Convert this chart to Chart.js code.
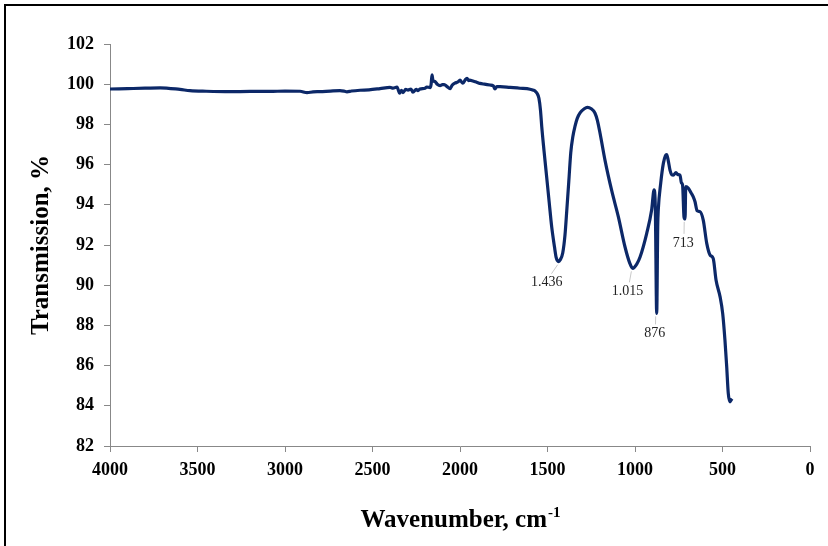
<!DOCTYPE html>
<html><head><meta charset="utf-8">
<script src="https://cdn.jsdelivr.net/npm/chart.js@4/dist/chart.umd.min.js"></script>
<style>
html,body{margin:0;padding:0;background:#fff;}
#wrap{position:relative;width:828px;height:546px;overflow:hidden;}
#frame{position:absolute;left:4px;top:4px;width:830px;height:550px;border-top:2px solid #000;border-left:2px solid #000;}
canvas{position:absolute;left:0;top:0;}
</style></head><body>
<div id="wrap"><div id="frame"></div><canvas id="c" width="828" height="546"></canvas></div>
<script>
const wavenumbers = [4000,3900,3800,3714,3600,3543,3450,3314,3200,3086,3000,2914,2874,2840,2800,2740,2686,2660,2646,2620,2571,2520,2457,2400,2383,2360,2345,2335,2326,2310,2297,2280,2269,2250,2240,2229,2200,2190,2171,2165,2160,2155,2152,2143,2130,2114,2100,2090,2074,2057,2045,2029,2010,2000,1990,1983,1970,1960,1950,1945,1926,1905,1886,1860,1829,1810,1800,1790,1771,1714,1657,1600,1580,1571,1560,1549,1540,1533,1520,1505,1490,1476,1460,1451,1443,1436,1428,1413,1400,1390,1378,1367,1355,1343,1330,1314,1290,1272,1250,1229,1215,1200,1171,1133,1095,1057,1030,1013,990,971,933,905,891,884,876,870,867,853,838,826,819,810,800,790,781,766,755,743,735,728,720,714,710,695,680,667,657,645,629,610,590,571,553,537,514,499,486,476,467,457,450,445];
const transmission = [99.76,99.78,99.80,99.82,99.74,99.68,99.65,99.63,99.64,99.64,99.66,99.65,99.58,99.62,99.63,99.66,99.68,99.65,99.62,99.66,99.70,99.72,99.78,99.84,99.80,99.86,99.55,99.70,99.58,99.74,99.71,99.76,99.60,99.74,99.68,99.76,99.80,99.86,99.83,100.0,100.46,100.2,100.15,100.13,100.0,99.93,99.98,99.98,99.88,99.78,99.95,100.05,100.12,100.21,100.10,100.05,100.22,100.29,100.18,100.2,100.16,100.10,100.04,100.0,99.96,99.92,99.76,99.88,99.88,99.84,99.80,99.75,99.70,99.66,99.55,99.3,98.7,97.9,96.7,95.4,94.1,92.9,91.9,91.4,91.22,91.17,91.25,91.6,92.5,93.7,95.2,96.6,97.4,97.9,98.3,98.57,98.78,98.85,98.78,98.57,98.2,97.57,96.2,94.7,93.4,91.9,91.1,90.84,91.05,91.4,92.58,93.74,94.74,93.9,88.6,93.0,93.74,95.08,96.06,96.45,96.5,96.2,95.73,95.5,95.48,95.6,95.5,95.48,95.1,94.98,93.4,93.3,94.9,94.82,94.6,94.4,94.15,93.7,93.66,93.24,92.08,91.5,91.33,90.26,89.43,88.6,87.27,85.95,84.62,84.2,84.3,84.35];
const peakWn = [1436, 1015, 876, 713];
const peakT = [91.17, 90.84, 88.6, 93.3];
const peakLabels = ['1.436', '1.015', '876', '713'];
const xMin = 0, xMax = 4000, xStep = 500;
const yMin = 82, yMax = 102, yStep = 2;
const xTitle = 'Wavenumber, cm';
const xTitleSup = '-1';
const yTitle = 'Transmission, %';

const points = wavenumbers.map((w, i) => ({x: w, y: transmission[i]}));
const SERIF = '"Liberation Serif", "Times New Roman", serif';

const decorPlugin = {
  id: 'decor',
  afterDraw(chart) {
    const ctx = chart.ctx;
    const xs = chart.scales.x, ys = chart.scales.y;
    const area = chart.chartArea;
    ctx.save();
    const offs = [[-12, 21], [-5, 23], [-2, 20], [-2, 24]];
    ctx.font = '14px ' + SERIF;
    ctx.textAlign = 'center';
    ctx.textBaseline = 'middle';
    peakWn.forEach((w, i) => {
      const px = xs.getPixelForValue(w), py = ys.getPixelForValue(peakT[i]);
      const [dx, dy] = offs[i];
      ctx.strokeStyle = '#c8c8c8';
      ctx.lineWidth = 1;
      ctx.beginPath();
      ctx.moveTo(px - 1, py + 3);
      ctx.lineTo(px + dx * 0.6, py + dy - 9);
      ctx.stroke();
      ctx.fillStyle = '#222';
      ctx.fillText(peakLabels[i], px + dx, py + dy);
    });
    ctx.fillStyle = '#000';
    ctx.font = 'bold 25px ' + SERIF;
    const mainW = ctx.measureText(xTitle).width;
    ctx.font = 'bold 15px ' + SERIF;
    const supW = ctx.measureText(xTitleSup).width;
    const cx = (area.left + area.right) / 2;
    const startX = cx - (mainW + supW) / 2;
    ctx.textAlign = 'left';
    ctx.textBaseline = 'alphabetic';
    ctx.font = 'bold 25px ' + SERIF;
    ctx.fillText(xTitle, startX, 527);
    ctx.font = 'bold 15px ' + SERIF;
    ctx.fillText(xTitleSup, startX + mainW + 1, 517);
    ctx.translate(48, (area.top + area.bottom) / 2);
    ctx.rotate(-Math.PI / 2);
    ctx.textAlign = 'center';
    ctx.font = 'bold 25px ' + SERIF;
    ctx.fillText(yTitle, 0, 0);
    ctx.restore();
  }
};

new Chart(document.getElementById('c'), {
  type: 'scatter',
  data: {
    datasets: [{
      data: points,
      showLine: true,
      borderColor: '#0c2868',
      borderWidth: 3.2,
      pointRadius: 0,
      cubicInterpolationMode: 'monotone',
      fill: false
    }]
  },
  options: {
    responsive: false,
    animation: false,
    devicePixelRatio: 1,
    layout: {padding: {top: 44, right: 18, left: 0, bottom: 0}},
    plugins: {legend: {display: false}, tooltip: {enabled: false}},
    scales: {
      x: {
        type: 'linear', reverse: true, min: xMin, max: xMax,
        afterFit(s) { s.height = 100; },
        border: {color: '#888', width: 1},
        grid: {drawOnChartArea: false, drawTicks: true, tickLength: 6, color: '#888'},
        ticks: {stepSize: xStep, color: '#000', padding: 8, maxRotation: 0,
          callback: v => String(v),
          font: {family: SERIF, size: 18, weight: 'bold'}}
      },
      y: {
        min: yMin, max: yMax,
        afterFit(s) { s.width = 110; },
        border: {color: '#888', width: 1},
        grid: {drawOnChartArea: false, drawTicks: true, tickLength: 6, color: '#888'},
        ticks: {stepSize: yStep, color: '#000', padding: 10,
          callback: v => String(v),
          font: {family: SERIF, size: 18, weight: 'bold'}}
      }
    }
  },
  plugins: [decorPlugin]
});
</script>
</body></html>
